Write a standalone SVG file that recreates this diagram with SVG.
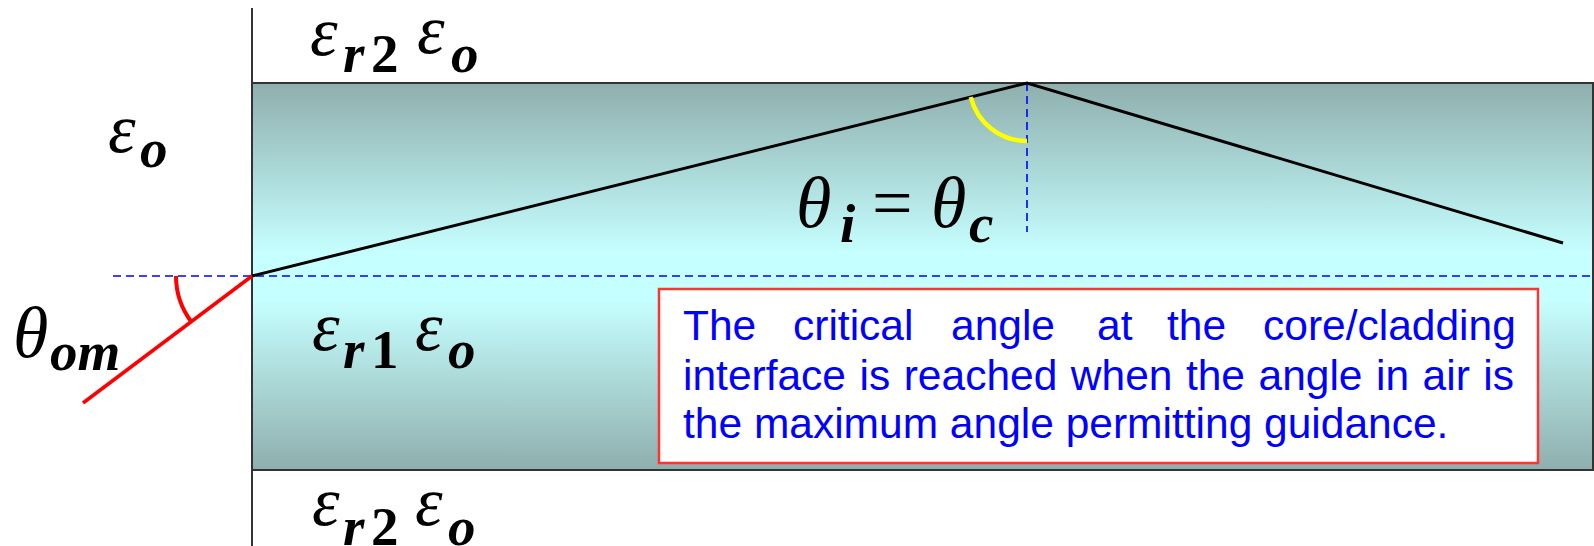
<svg xmlns="http://www.w3.org/2000/svg" width="1594" height="546" viewBox="0 0 1594 546">
<style>
.eps{font-family:"Liberation Serif","Times New Roman",serif;font-style:italic;font-size:70px;fill:#000}
.sub{font-family:"Liberation Serif","Times New Roman",serif;font-style:italic;font-weight:bold;font-size:55px;fill:#000}
.subn{font-family:"Liberation Serif","Times New Roman",serif;font-weight:bold;font-size:55px;fill:#000}
.th{font-family:"Liberation Serif","Times New Roman",serif;font-style:italic;font-size:72px;fill:#000}
.eq{font-family:"Liberation Serif","Times New Roman",serif;font-size:72px;fill:#000}
.note{font-family:"Liberation Sans",Arial,sans-serif;font-size:42.5px;fill:#0000ff}
.dash{stroke:#0000ff;stroke-width:1.6;stroke-dasharray:8 5;fill:none}
</style>
<defs>
<linearGradient id="core" x1="0" y1="0" x2="0" y2="1">
<stop offset="0" stop-color="#8eafad"/>
<stop offset="0.44" stop-color="#c6ffff"/>
<stop offset="0.56" stop-color="#c6ffff"/>
<stop offset="1" stop-color="#8eafad"/>
</linearGradient>
</defs>
<rect width="1594" height="546" fill="#ffffff"/>
<g id="waveguide">
<rect x="252" y="83" width="1341" height="387" fill="url(#core)" stroke="#333333" stroke-width="2"/>
<line x1="252" y1="8" x2="252" y2="546" stroke="#333333" stroke-width="2"/>
</g>
<g id="connectors">
<line class="dash" x1="113" y1="276" x2="1592" y2="276"/>
<line class="dash" x1="1027" y1="83" x2="1027" y2="232"/>
<polyline points="252,276 1027,83 1563,243" fill="none" stroke="#000000" stroke-width="3" stroke-linejoin="miter"/>
<line x1="252" y1="276" x2="83" y2="403" stroke="#ff0000" stroke-width="3.5"/>
<path d="M 176 276 A 76 76 0 0 0 191.3 321.7" fill="none" stroke="#ff0000" stroke-width="4"/>
<path d="M 970.7 97 A 58 58 0 0 0 1027 141" fill="none" stroke="#ffff00" stroke-width="4.5"/>
</g>
<g id="label-top">
<text class="eps" x="310" y="55">ε</text>
<text class="sub" x="343" y="72">r</text>
<text class="subn" x="371" y="72">2</text>
<text class="eps" x="417" y="53">ε</text>
<text class="sub" x="451" y="72">o</text>
</g>
<g id="label-air">
<text class="eps" x="108" y="152">ε</text>
<text class="sub" x="140" y="167">o</text>
</g>
<g id="label-core">
<text class="eps" x="312" y="350">ε</text>
<text class="sub" x="343" y="368">r</text>
<text class="subn" x="371" y="368">1</text>
<text class="eps" x="415" y="350">ε</text>
<text class="sub" x="448" y="368">o</text>
</g>
<g id="label-bottom">
<text class="eps" x="312" y="525">ε</text>
<text class="sub" x="343" y="545">r</text>
<text class="subn" x="371" y="545">2</text>
<text class="eps" x="415" y="525">ε</text>
<text class="sub" x="448" y="545">o</text>
</g>
<g id="label-theta-om">
<text class="th" x="13" y="357">θ</text>
<text class="sub" x="50" y="370">om</text>
</g>
<g id="label-theta-ic">
<text class="th" x="796" y="227">θ</text>
<text class="sub" x="840" y="242">i</text>
<text class="eq" x="872" y="227">=</text>
<text class="th" x="931" y="227">θ</text>
<text class="sub" x="969" y="242">c</text>
</g>
<g id="note">
<rect x="659" y="289" width="879" height="174" fill="#ffffff" stroke="#ff3333" stroke-width="2.5"/>
<text class="note" y="340"><tspan x="683">The</tspan><tspan x="793">critical</tspan><tspan x="951">angle</tspan><tspan x="1097">at</tspan><tspan x="1167">the</tspan><tspan x="1263">core/cladding</tspan></text>
<text class="note" x="683" y="390" word-spacing="1.7">interface is reached when the angle in air is</text>
<text class="note" x="683" y="438">the maximum angle permitting guidance.</text>
</g>
</svg>
